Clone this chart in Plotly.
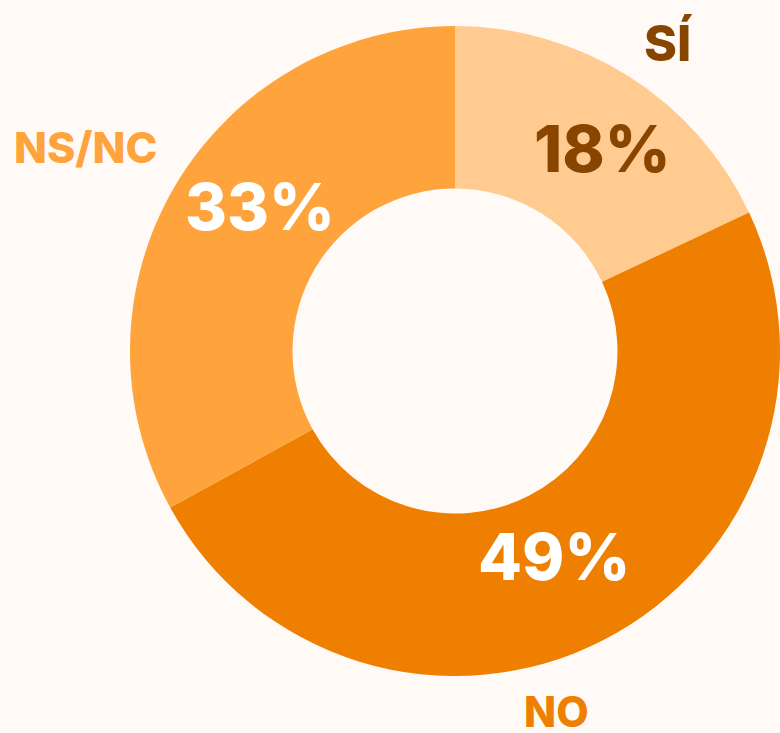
import plotly.graph_objects as go

labels = ["SÍ", "NO", "NS/NC"]
values = [18, 49, 33]
slice_colors = ["#FFCB91", "#EE7F00", "#FFA33C"]
pct_colors = ["#874500", "#FFFFFF", "#FFFFFF"]
label_colors = ["#874500", "#EE7F00", "#FFA33C"]

BG = "#FFFAF5"
FONT = "Inter"

fig = go.Figure()
fig.add_trace(go.Pie(
    labels=labels,
    values=values,
    sort=False,
    direction="clockwise",
    rotation=0,
    hole=0.5,
    marker=dict(colors=slice_colors, line=dict(width=0)),
    textinfo="none",
    domain=dict(x=[130 / 780, 1.0], y=[1 - 676 / 733, 1 - 26 / 733]),
    showlegend=False,
    hoverinfo="label+percent",
))

total = sum(values)
pct_pos = [(602, 148), (554, 556), (260, 206)]
for v, col, (px, py) in zip(values, pct_colors, pct_pos):
    fig.add_annotation(
        x=px / 780, y=1 - py / 733, xref="paper", yref="paper",
        text=f"{round(100 * v / total)}%", showarrow=False,
        xanchor="center", yanchor="middle",
        font=dict(family=FONT, size=64, color=col, weight=800),
    )

label_pos = [(668, 43, 50), (556, 711, 42), (85, 147, 43)]
for lab, col, (px, py, fs) in zip(labels, label_colors, label_pos):
    fig.add_annotation(
        x=px / 780, y=1 - py / 733, xref="paper", yref="paper",
        text=lab, showarrow=False, xanchor="center", yanchor="middle",
        font=dict(family=FONT, size=fs, color=col, weight=800),
    )

fig.update_layout(
    width=780, height=733,
    margin=dict(l=0, r=0, t=0, b=0),
    paper_bgcolor=BG, plot_bgcolor=BG,
)

fig.write_html("out.html")
